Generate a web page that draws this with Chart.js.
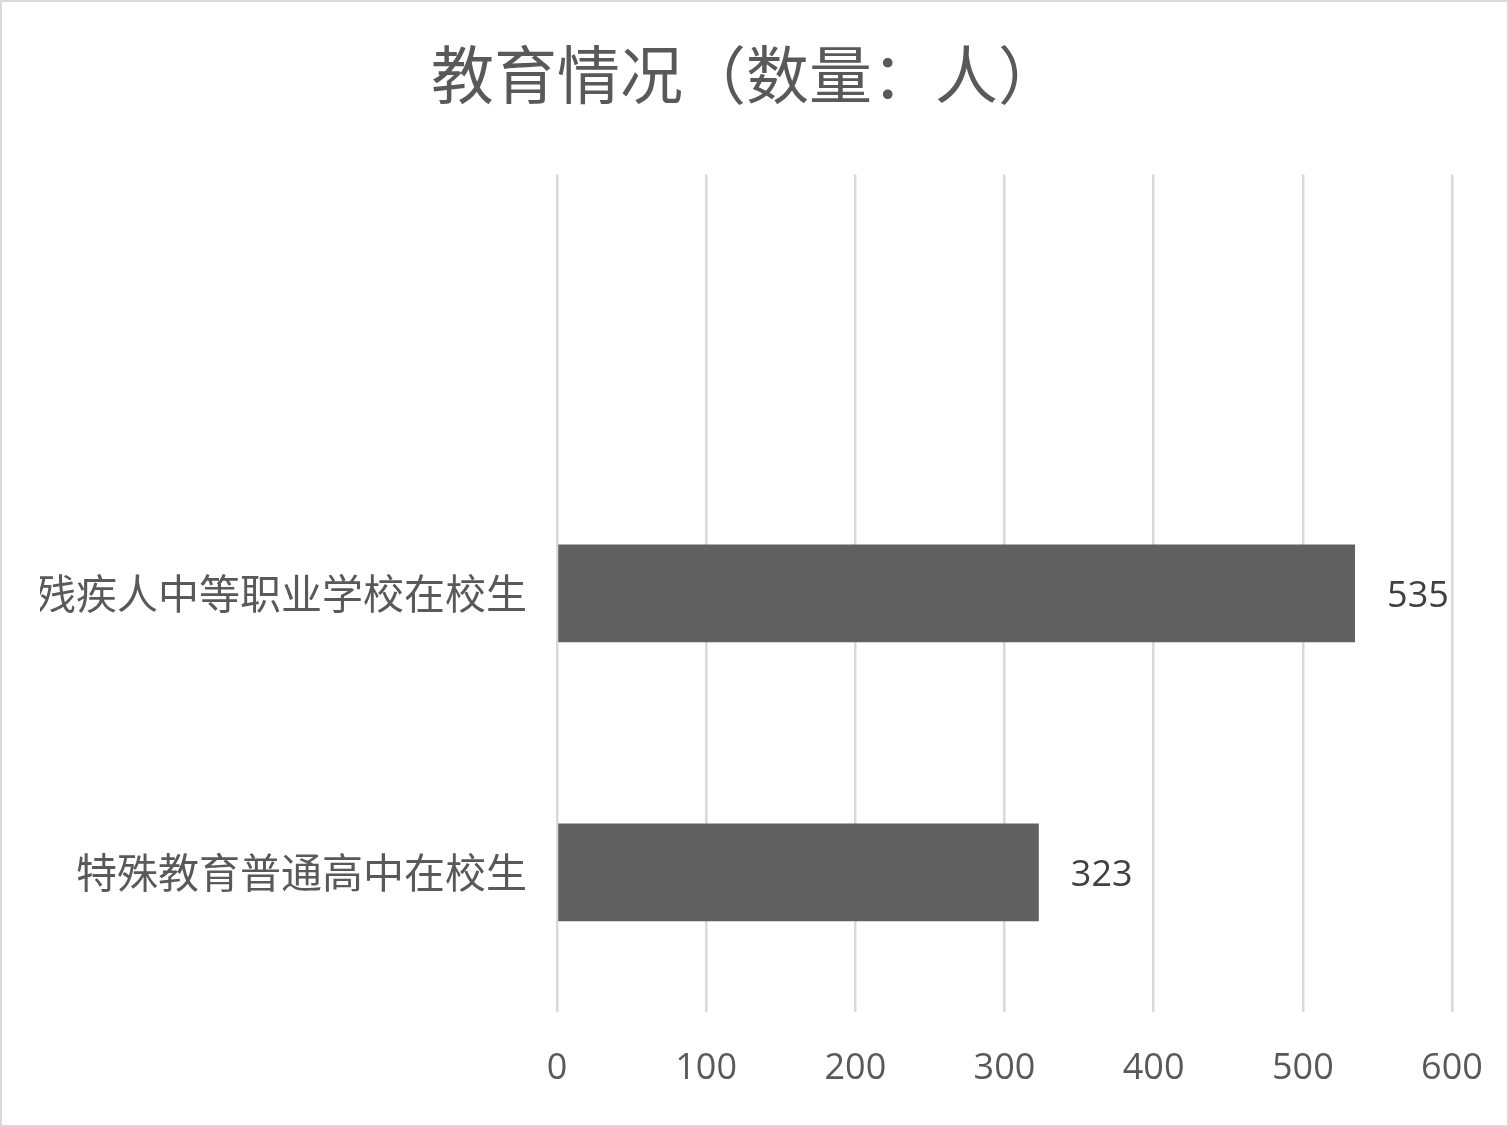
<!DOCTYPE html>
<html>
<head>
<meta charset="utf-8">
<script src="https://cdn.jsdelivr.net/npm/chart.js@4.4.0/dist/chart.umd.min.js"></script>
<style>
  html, body { margin: 0; padding: 0; background: #ffffff; }
  #wrap { width: 1509px; height: 1127px; }
</style>
</head>
<body>
<div id="wrap"><canvas id="edu"></canvas></div>
<script>
const chartTitle = '教育情况（数量：人）';
const categories = ['', '残疾人中等职业学校在校生', '特殊教育普通高中在校生'];
const students = [null, 535, 323];
const xTicks = [0, 100, 200, 300, 400, 500, 600];

const cjkFont = "'Noto Sans CJK SC', 'Noto Sans', sans-serif";
const numFont = "'Open Sans', 'Noto Sans', sans-serif";

// value labels at the end of each bar, like Excel data labels
const barLabels = {
  id: 'barLabels',
  afterDatasetsDraw(chart) {
    const ctx = chart.ctx;
    const meta = chart.getDatasetMeta(0);
    ctx.save();
    ctx.font = '36px ' + numFont;
    ctx.fillStyle = '#404040';
    ctx.textAlign = 'left';
    ctx.textBaseline = 'middle';
    meta.data.forEach((bar, i) => {
      const v = students[i];
      if (v == null) return;
      ctx.fillText(String(v), bar.x + 32, bar.y + 3);
    });
    ctx.restore();
  }
};

// thin gray frame round the whole chart
const frame = {
  id: 'frame',
  afterDraw(chart) {
    const ctx = chart.ctx;
    ctx.save();
    ctx.strokeStyle = '#d9d9d9';
    ctx.lineWidth = 2;
    ctx.strokeRect(1, 1, chart.width - 2, chart.height - 2);
    ctx.restore();
  }
};

new Chart(document.getElementById('edu').getContext('2d'), {
  type: 'bar',
  data: {
    labels: categories,
    datasets: [{
      data: students,
      backgroundColor: '#606060',
      borderWidth: 0,
      barPercentage: 0.35,
      categoryPercentage: 1.0
    }]
  },
  options: {
    indexAxis: 'y',
    responsive: true,
    maintainAspectRatio: false,
    animation: false,
    layout: { padding: { top: 0, right: 57, bottom: 0, left: 40 } },
    plugins: {
      legend: { display: false },
      tooltip: { enabled: false },
      title: {
        display: true,
        text: chartTitle,
        color: '#595959',
        font: { family: cjkFont, size: 63, weight: 'normal', lineHeight: 1.2 },
        padding: { top: 36, bottom: 63 }
      }
    },
    scales: {
      x: {
        min: 0,
        max: 600,
        afterBuildTicks(scale) {
          scale.ticks = xTicks.map(v => ({ value: v }));
        },
        afterFit(scale) {
          scale.height = 115;
          // the end labels may hang past the plot, as in the original
          scale.paddingLeft = 0;
          scale.paddingRight = 0;
        },
        grid: { color: '#d9d9d9', lineWidth: 2.5, drawTicks: false },
        border: { display: false },
        ticks: {
          color: '#595959',
          font: { family: numFont, size: 36 },
          padding: 35,
          maxRotation: 0
        }
      },
      y: {
        afterFit(scale) { scale.width = 517; },
        grid: { display: false },
        border: { display: false },
        ticks: {
          color: '#595959',
          font: { family: cjkFont, size: 41 },
          padding: 22
        }
      }
    }
  },
  plugins: [barLabels, frame]
});
</script>
</body>
</html>
